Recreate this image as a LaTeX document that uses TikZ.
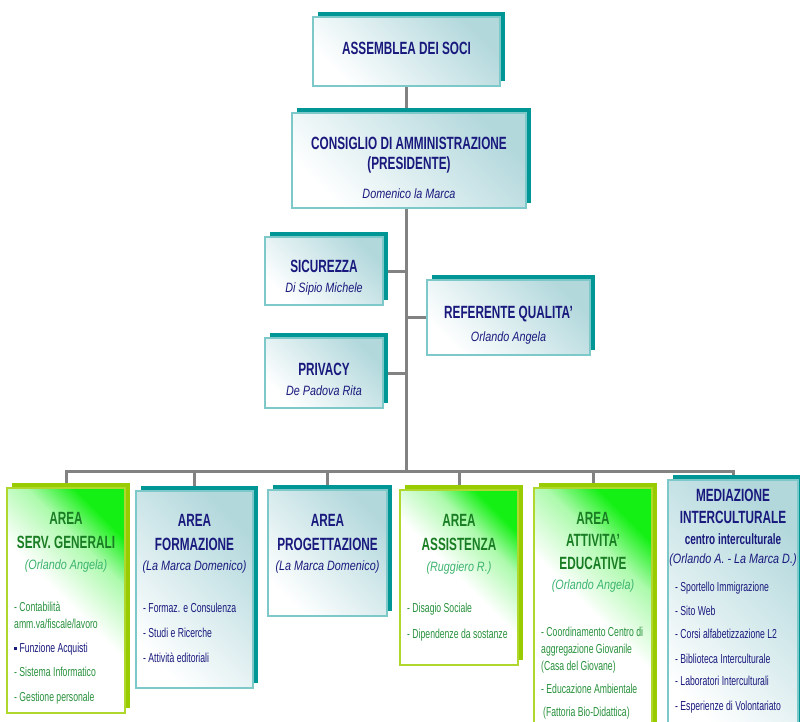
\documentclass[tikz,border=0pt]{standalone}
\usepackage{fontspec}
\setmainfont{Liberation Sans}[FakeStretch=0.665]
\newfontfamily\namefont{Liberation Sans}[FakeStretch=0.8]
\usepackage{xcolor}
\usepackage{tikz}
\usetikzlibrary{fit}
\usetikzlibrary{positioning}
\usetikzlibrary{shadows}
\usetikzlibrary{backgrounds}
\definecolor{navytext}{RGB}{25,25,125}
\definecolor{greentitle}{RGB}{25,125,35}
\definecolor{greenname}{RGB}{60,180,110}
\definecolor{greenitem}{RGB}{40,145,60}
\definecolor{tealshade}{RGB}{0,150,150}
\definecolor{tealedge}{RGB}{125,200,200}
\definecolor{tealfill}{RGB}{178,216,220}
\definecolor{limeshade}{RGB}{153,204,0}
\definecolor{limeedge}{RGB}{175,215,45}
\definecolor{brightgreen}{RGB}{20,240,20}
\definecolor{linegray}{RGB}{130,130,130}
\pgfdeclareverticalshading{tealfade}{100bp}{color(0bp)=(white); color(25bp)=(white); color(75bp)=(tealfill); color(100bp)=(tealfill)}
\pgfdeclareverticalshading{greenfade}{100bp}{color(0bp)=(white); color(25bp)=(white); color(50bp)=(white); color(65bp)=(brightgreen!35); color(75bp)=(brightgreen); color(100bp)=(brightgreen)}
\tikzset{%
  boxteal/.style={rectangle,draw=tealedge,line width=1.2pt,shade,shading=tealfade,shading angle=-45,inner sep=0pt,
    drop shadow={shadow xshift=5pt,shadow yshift=5pt,fill=tealshade,opacity=1}},
  boxlime/.style={rectangle,draw=limeedge,line width=1.2pt,shade,shading=greenfade,shading angle=-45,inner sep=0pt,
    drop shadow={shadow xshift=5pt,shadow yshift=5pt,fill=limeshade,opacity=1}},
  toptitle/.style={font=\bfseries\fontsize{17.7}{20}\selectfont,text=navytext,align=center,inner sep=0pt,anchor=north},
  topname/.style={font=\namefont\itshape\fontsize{13.5}{16}\selectfont,text=navytext,inner sep=0pt},
  areatitle/.style={font=\bfseries\fontsize{17.7}{24}\selectfont,align=center,inner sep=0pt,anchor=north},
  areaname/.style={font=\namefont\itshape\fontsize{13.5}{16}\selectfont,inner sep=0pt},
  items/.style={font=\fontsize{13}{17}\selectfont,align=left,inner sep=0pt,anchor=north west},
  link/.style={draw=linegray,line width=3pt}
}
\newcommand\sqbullet{\rule[2.5pt]{3pt}{3pt}}

\begin{document}
\begin{tikzpicture}[x=1pt,y=-1pt]
    \clip (0,0) rectangle (800,721);
    \node[boxteal,fit={(313,17)(500,86)}](soci){};
    \node[toptitle](socit) at (406.5,41.7){ASSEMBLEA DEI SOCI};
    \node[boxteal,fit={(292,113)(526,208)}](cda){};
    \node[toptitle](cdat) at (409,136.7){CONSIGLIO DI AMMINISTRAZIONE\\(PRESIDENTE)};
    \node[topname,below=15pt of cdat](cdan){Domenico la Marca};
    \node[boxteal,fit={(265,237)(383,305)}](sic){};
    \node[toptitle](sict) at (324,259.7){SICUREZZA};
    \node[topname,below=10pt of sict](sicn){Di Sipio Michele};
    \node[boxteal,fit={(265,338)(383,408)}](priv){};
    \node[toptitle](privt) at (324,362.7){PRIVACY};
    \node[topname,below=9.5pt of privt](privn){De Padova Rita};
    \node[boxteal,fit={(427,280)(590,355)}](ref){};
    \node[toptitle](reft) at (508.5,305.7){REFERENTE QUALITA'};
    \node[topname,below=9.5pt of reft](refn){Orlando Angela};

    \node[boxlime,fit={(7,488)(125,713)}](b1){};
    \node[areatitle,text=greentitle](b1t) at (66,511.7){AREA\\SERV. GENERALI};
    \node[areaname,text=greenname,below=11pt of b1t](b1n){(Orlando Angela)};
    \node[items,text=greenitem](b1l) at (14,602){- Contabilità\\amm.va/fiscale/lavoro\\[7pt]
        \textcolor{navytext}{\sqbullet\ Funzione Acquisti}\\[7pt]- Sistema Informatico\\[8pt]- Gestione personale};
    \node[boxteal,fit={(136,491)(253,688)}](b2){};
    \node[areatitle,text=navytext](b2t) at (194.5,513.7){AREA\\FORMAZIONE};
    \node[areaname,text=navytext,below=10.5pt of b2t](b2n){(La Marca Domenico)};
    \node[items,text=navytext](b2l) at (143,603.3){- Formaz. e Consulenza\\[8pt]- Studi e Ricerche\\[8pt]- Attività editoriali};
    \node[boxteal,fit={(268,490)(387,616)}](b3){};
    \node[areatitle,text=navytext](b3t) at (327.5,513.7){AREA\\PROGETTAZIONE};
    \node[areaname,text=navytext,below=10.5pt of b3t](b3n){(La Marca Domenico)};
    \node[boxlime,fit={(400,490)(518,665)}](b4){};
    \node[areatitle,text=greentitle](b4t) at (459,513.7){AREA\\ASSISTENZA};
    \node[areaname,text=greenname,below=11pt of b4t](b4n){(Ruggiero R.)};
    \node[items,text=greenitem](b4l) at (407,603.3){- Disagio Sociale\\[9pt]- Dipendenze da sostanze};
    \node[boxlime,fit={(534,488)(652,740)}](b5){};
    \node[areatitle,text=greentitle,font=\bfseries\fontsize{17.7}{22.5}\selectfont](b5t) at (593,511.7){AREA\\ATTIVITA'\\EDUCATIVE};
    \node[areaname,text=greenname,below=10.5pt of b5t](b5n){(Orlando Angela)};
    \node[items,text=greenitem](b5l) at (541,627.3){- Coordinamento Centro di\\aggregazione Giovanile\\(Casa del Giovane)\\[6pt]
        - Educazione Ambientale\\[6pt]\hspace{2pt}(Fattoria Bio-Didattica)};
    \node[boxteal,fit={(668,480)(798,740)}](b6){};
    \node[areatitle,text=navytext,font=\bfseries\fontsize{17.7}{22}\selectfont](b6t) at (733,488.7){MEDIAZIONE\\INTERCULTURALE\\[-1pt]
        {\fontsize{15}{16}\selectfont centro interculturale}};
    \node[areaname,text=navytext,below=9pt of b6t](b6n){(Orlando A. - La Marca D.)};
    \node[items,text=navytext](b6l) at (675,582.3){- Sportello Immigrazione\\[7pt]- Sito Web\\[6pt]- Corsi alfabetizzazione L2\\[8pt]
        - Biblioteca Interculturale\\[5pt]- Laboratori Interculturali\\[8pt]- Esperienze di Volontariato};

    \begin{pgfonlayer}{background}
        \coordinate (bus) at (soci.south |- 0,471);
        \draw[link] (soci.south) -- (bus);
        \draw[link] (sic.east) -- (sic.east -| bus);
        \draw[link] (priv.east) -- (priv.east -| bus);
        \draw[link] (ref.west) -- (ref.west -| bus);
        \foreach \b in {b1,b2,b3,b4,b5,b6}
            \draw[link] (bus) -| (\b.north);
    \end{pgfonlayer}
\end{tikzpicture}
\end{document}
